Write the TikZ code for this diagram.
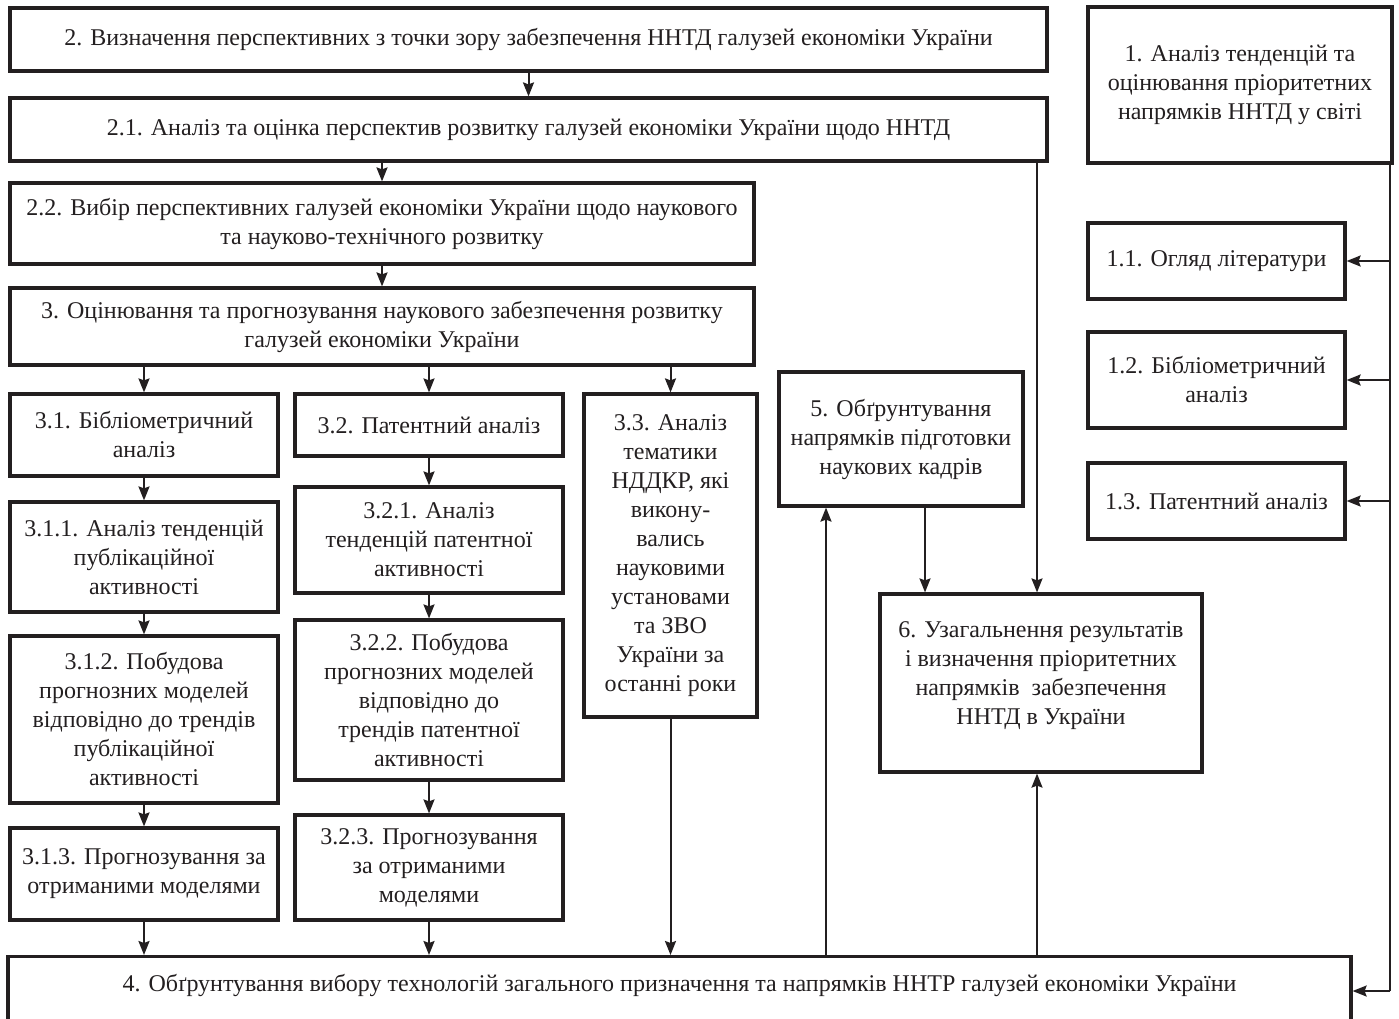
\documentclass[tikz,border=0pt]{standalone}
\usepackage{fontspec}
\setmainfont{Liberation Serif}
\usetikzlibrary{arrows.meta,calc}
\definecolor{ink}{RGB}{35,31,32}
\newcommand{\bx}[6]{%
  \node[box, minimum width={#4-#2}, minimum height={#5-#3}] (#1) at ({(#2+#4)/2},{(#3+#5)/2}) {#6};}
\begin{document}
\begin{tikzpicture}[x=1pt,y=-1pt,
  box/.style={draw=ink, line width=3.2pt, inner sep=0pt, align=center, text=ink,
    font=\fontsize{24}{29}\selectfont},
  arr/.style={draw=ink, line width=2pt, -{Stealth[length=14pt,width=11pt,inset=2pt]}},
  ln/.style={draw=ink, line width=2pt}]
\useasboundingbox (0,0) rectangle (1399,1018);
\clip (0,0) rectangle (1399,1018);
\fill[white] (0,0) rectangle (1399,1018);

\bx{b2}{10}{8}{1047}{71}{2. Визначення перспективних з точки зору забезпечення ННТД галузей економіки України}
\bx{b21}{10}{98}{1047}{161}{2.1. Аналіз та оцінка перспектив розвитку галузей економіки України щодо ННТД}
\bx{b22}{10}{183}{754}{264}{2.2. Вибір перспективних галузей економіки України щодо наукового\\та науково-технічного розвитку}
\bx{b3}{10}{288}{754}{365}{3. Оцінювання та прогнозування наукового забезпечення розвитку\\галузей економіки України}
\bx{b31}{10}{394}{278}{476}{3.1. Бібліометричний\\аналіз}
\bx{b32}{295}{394}{563}{456}{3.2. Патентний аналіз}
\bx{b33}{584}{394}{757}{717}{3.3. Аналіз\\тематики\\НДДКР, які\\викону-\\вались\\науковими\\установами\\та ЗВО\\України за\\останні роки}
\bx{b311}{10}{502}{278}{612}{3.1.1. Аналіз тенденцій\\публікаційної\\активності}
\bx{b312}{10}{636}{278}{803}{3.1.2. Побудова\\прогнозних моделей\\відповідно до трендів\\публікаційної\\активності}
\bx{b313}{10}{828}{278}{920}{3.1.3. Прогнозування за\\отриманими моделями}
\bx{b321}{295}{487}{563}{593}{3.2.1. Аналіз\\тенденцій патентної\\активності}
\bx{b322}{295}{620}{563}{780}{3.2.2. Побудова\\прогнозних моделей\\відповідно до\\трендів патентної\\активності}
\bx{b323}{295}{815}{563}{920}{3.2.3. Прогнозування\\за отриманими\\моделями}
\bx{b5}{779}{372}{1023}{506}{5. Обґрунтування\\напрямків підготовки\\наукових кадрів}
\bx{b6}{880}{594}{1202}{772}{6. Узагальнення результатів\\і визначення пріоритетних\\напрямків \ забезпечення\\ННТД в України\\[-9pt]}
\bx{b1}{1088}{7}{1392}{163}{1. Аналіз тенденцій та\\оцінювання пріоритетних\\напрямків ННТД у світі}
\bx{b11}{1088}{223}{1345}{299}{1.1. Огляд літератури}
\bx{b12}{1088}{332}{1345}{428}{1.2. Бібліометричний\\аналіз}
\bx{b13}{1088}{463}{1345}{539}{1.3. Патентний аналіз}
\node[box, align=none, minimum width=1343pt, text height=35pt, text depth=65pt, anchor=north] (b4) at (679.5,955) {4. Обґрунтування вибору технологій загального призначення та напрямків ННТР галузей економіки України};

\coordinate (x5) at (826,0);
\coordinate (x56) at (925,0);
\coordinate (x6) at (1037,0);
\coordinate (xr) at (1390,0);
\coordinate (yb) at (0,991);

\draw[arr] (b2) -- (b21);
\draw[arr] (b21.south -| b22.north) -- (b22.north);
\draw[arr] (b22) -- (b3);
\draw[arr] (b3.south -| b31.north) -- (b31.north);
\draw[arr] (b3.south -| b32.north) -- (b32.north);
\draw[arr] (b3.south -| b33.north) -- (b33.north);
\draw[arr] (b31) -- (b311);
\draw[arr] (b311) -- (b312);
\draw[arr] (b312) -- (b313);
\draw[arr] (b313.south) -- (b313.south |- b4.north);
\draw[arr] (b32) -- (b321);
\draw[arr] (b321) -- (b322);
\draw[arr] (b322) -- (b323);
\draw[arr] (b323.south) -- (b323.south |- b4.north);
\draw[arr] (b33.south) -- (b33.south |- b4.north);
\draw[arr] (b4.north -| x5) -- (b5.south -| x5);
\draw[arr] (b5.south -| x56) -- (b6.north -| x56);
\draw[arr] (b21.south -| x6) -- (b6.north -| x6);
\draw[arr] (b4.north -| x6) -- (b6.south -| x6);
\draw[ln] (b1.south -| xr) -- (xr |- yb);
\draw[arr] (xr |- yb) -- (b4.east |- yb);
\draw[arr] (b11.east -| xr) -- (b11.east);
\draw[arr] (b12.east -| xr) -- (b12.east);
\draw[arr] (b13.east -| xr) -- (b13.east);
\end{tikzpicture}
\end{document}
